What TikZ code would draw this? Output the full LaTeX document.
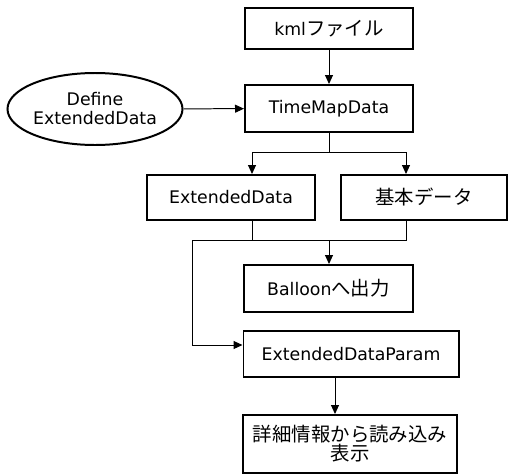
\documentclass[tikz,border=0pt]{standalone}
\usepackage{fontspec}
\setmainfont{DejaVu Sans}
\newfontfamily\jp[Scale=1.12]{Noto Sans CJK JP}
\usetikzlibrary{shapes.geometric,arrows.meta}
\begin{document}
\begin{tikzpicture}[x=0.03cm,y=-0.03cm,
  box/.style={draw,line width=1.7pt,inner sep=2pt,align=center,font=\fontsize{14.8}{16.2}\selectfont},
  oval/.style={box,ellipse,inner sep=0pt},
  link/.style={line width=0.85pt},
  arr/.style={link,-{Triangle[length=0.27cm,width=0.24cm]}}]
\useasboundingbox (0,0) rectangle (509,475);

\node[box,minimum width=5.04cm,minimum height=1.23cm] (kml) at (329,28.5) {kml{\jp ファイル}};
\node[box,minimum width=5.04cm,minimum height=1.41cm] (tmd) at (329,108.5) {TimeMapData};
\node[oval,minimum width=5.1cm,minimum height=2.16cm] (def) at (95,109) {Define\\ExtendedData};
\node[box,minimum width=5.04cm,minimum height=1.35cm] (ext) at (231,197.5) {ExtendedData};
\node[box,minimum width=4.98cm,minimum height=1.35cm] (basic) at (424,197.5) {{\jp 基本データ}};
\node[box,minimum width=5.07cm,minimum height=1.41cm] (balloon) at (328.5,288.5) {Balloon{\jp へ出力}};
\node[box,minimum width=6.45cm,minimum height=1.38cm] (param) at (351,354) {ExtendedDataParam};
\node[box,minimum width=6.42cm,minimum height=1.74cm] (detail) at (350,444) {{\jp 詳細情報から読み込み}\\{\jp 表示}};

\coordinate (split) at (329,152);
\coordinate (merge) at (329,240);
\coordinate (bend) at (192,240);

\draw[arr] (kml) -- (tmd);
\draw[arr] (def) -- (tmd);
\draw[link] (tmd) -- (split);
\draw[arr] (split) -| ([xshift=0.63cm]ext.north);
\draw[arr] (split) -| ([xshift=-0.54cm]basic.north);
\draw[link] ([xshift=0.63cm]ext.south) |- (merge);
\draw[link] ([xshift=-0.54cm]basic.south) |- (merge);
\draw[arr] (merge) -- (merge |- balloon.north);
\draw[arr] ([xshift=0.63cm]ext.south) |- (bend) |- ([yshift=0.27cm]param.west);
\draw[arr] ([xshift=-0.48cm]param.south) -- ([xshift=-0.45cm]detail.north);
\end{tikzpicture}
\end{document}
